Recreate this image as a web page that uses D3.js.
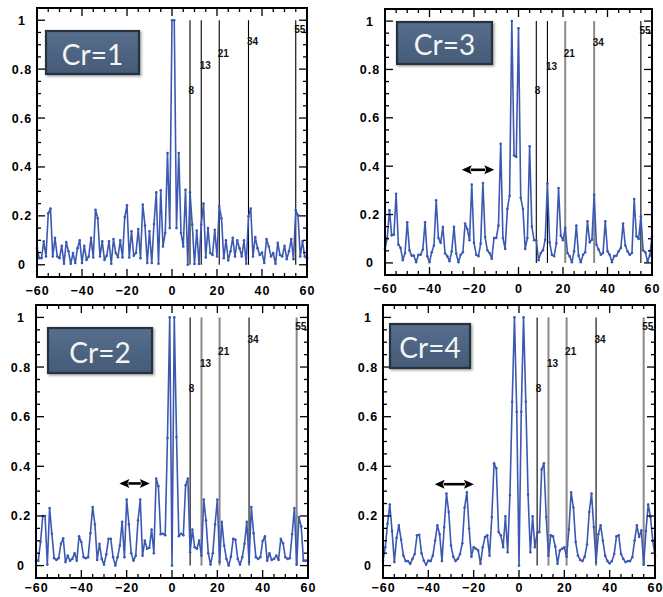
<!DOCTYPE html>
<html>
<head>
<meta charset="utf-8">
<script src="https://cdn.jsdelivr.net/npm/d3@7"></script>
<style>
  html, body { margin: 0; padding: 0; background: #fff; }
  svg { display: block; }
</style>
</head>
<body>
<svg id="chart" width="663" height="597"></svg>
<script>
// ---------------- DATA ----------------
const lags = d3.range(-60, 61);   // integer lag positions on the x axis

const cr1 = [
  0.068,0.027,0.027,0.096,0.034,0.21,0.23,0.034,0.11,0.034,
  0.027,0.078,0.004,0.093,0.055,0.004,0.048,0.007,0.068,0.1,
  0.007,0.078,0.02,0.034,0.11,0.03,0.225,0.19,0.034,0.096,
  0.02,0.037,0.096,0.004,0.105,0.048,0.031,0.1,0.03,0.195,
  0.243,0.03,0.137,0.037,0.048,0.146,0.027,0.246,0.16,0.007,
  0.137,0.007,0.167,0.296,0.004,0.305,0.075,0.13,0.457,0.15,
  1.0,
  1.0,0.15,0.457,0.13,0.075,0.307,0.0,0.296,0.164,0.003,
  0.14,0.003,0.164,0.25,0.03,0.15,0.048,0.04,0.143,0.034,
  0.24,0.19,0.027,0.1,0.018,0.055,0.11,0.034,0.1,0.068,
  0.034,0.1,0.004,0.198,0.23,0.034,0.113,0.068,0.04,0.05,
  0.007,0.105,0.075,0.034,0.048,0.004,0.09,0.04,0.034,0.078,
  0.023,0.055,0.105,0.023,0.223,0.202,0.034,0.096,0.034,0.027
];

const cr3 = [
  0.058,0.103,0.218,0.114,0.117,0.286,0.076,0.062,0.011,0.041,
  0.168,0.052,0.03,0.03,0.003,0.034,0.034,0.055,0.168,0.028,
  0.003,0.044,0.072,0.259,0.103,0.083,0.149,0.039,0.028,0.007,
  0.048,0.149,0.039,0.003,0.034,0.044,0.163,0.14,0.094,0.324,
  0.083,0.034,0.028,0.08,0.33,0.107,0.052,0.041,0.017,0.103,
  0.103,0.154,0.493,0.103,0.058,0.223,0.278,1.0,0.444,0.438,
  0.97,
  0.269,0.223,0.058,0.103,0.482,0.15,0.094,0.094,0.011,0.041,
  0.052,0.096,0.328,0.085,0.034,0.028,0.08,0.31,0.113,0.094,
  0.145,0.041,0.028,0.003,0.048,0.154,0.03,0.003,0.034,0.044,
  0.172,0.085,0.096,0.282,0.076,0.055,0.034,0.041,0.172,0.048,
  0.034,0.003,0.028,0.03,0.048,0.062,0.163,0.072,0.048,0.034,
  0.041,0.264,0.11,0.099,0.193,0.052,0.044,0.007,0.03,0.11
];

const cr2 = [
  0.02,0.02,0.095,0.2,0.2,0.004,0.232,0.128,0.03,0.023,
  0.03,0.088,0.11,0.014,0.04,0.02,0.027,0.05,0.02,0.118,
  0.095,0.034,0.03,0.034,0.13,0.236,0.166,0.023,0.088,0.027,
  0.004,0.045,0.108,0.108,0.034,0.0,0.034,0.081,0.176,0.034,
  0.266,0.166,0.05,0.02,0.04,0.182,0.266,0.04,0.101,0.068,
  0.072,0.145,0.05,0.351,0.32,0.126,0.128,0.122,0.514,1.0,
  0.0,
  1.0,0.518,0.118,0.128,0.122,0.324,0.351,0.054,0.145,0.074,
  0.068,0.101,0.04,0.266,0.182,0.05,0.004,0.05,0.166,0.266,
  0.014,0.176,0.081,0.027,0.0,0.036,0.108,0.104,0.027,0.004,
  0.034,0.088,0.176,0.014,0.236,0.13,0.034,0.027,0.034,0.099,
  0.118,0.02,0.05,0.023,0.027,0.04,0.023,0.108,0.09,0.034,
  0.027,0.03,0.126,0.232,0.004,0.196,0.158,0.02,0.02,0.02
];

const cr4 = [
  0.02,0.074,0.169,0.246,0.139,0.014,0.112,0.162,0.104,0.04,
  0.018,0.018,0.007,0.027,0.047,0.122,0.124,0.05,0.02,0.004,
  0.02,0.018,0.04,0.101,0.162,0.126,0.018,0.155,0.29,0.216,
  0.081,0.036,0.018,0.027,0.047,0.09,0.234,0.295,0.149,0.036,
  0.074,0.068,0.061,0.007,0.074,0.115,0.122,0.04,0.196,0.412,
  0.392,0.135,0.122,0.074,0.199,0.054,0.284,0.66,1.0,0.62,
  0.0,
  0.62,1.0,0.66,0.286,0.054,0.199,0.074,0.131,0.135,0.388,
  0.412,0.196,0.04,0.122,0.118,0.077,0.007,0.061,0.068,0.074,
  0.036,0.145,0.295,0.234,0.095,0.04,0.023,0.018,0.036,0.085,
  0.216,0.29,0.155,0.014,0.126,0.162,0.101,0.04,0.018,0.009,
  0.018,0.047,0.118,0.122,0.047,0.027,0.014,0.018,0.018,0.034,
  0.101,0.162,0.115,0.142,0.004,0.139,0.246,0.196,0.101,0.04
];

const fibLags   = [8, 13, 21, 34, 55];
const fibLabels = ["8", "13", "21", "34", "55"];
const xTicks = [-60, -40, -20, 0, 20, 40, 60];
const yTicks = [0, 0.2, 0.4, 0.6, 0.8, 1];
const yTickLabels = ["0", "0.2", "0.4", "0.6", "0.8", "1"];
const titles = ["Cr=1", "Cr=3", "Cr=2", "Cr=4"];

// ---------------- LAYOUT / STYLE ----------------
const fibLabelY = [0.713, 0.813, 0.864, 0.911, 0.962];   // label heights (data units)
const BLUE = "#3b59b2";

const panels = [
  { series: cr1, title: titles[0], L: 37,  R: 307, T: 8,   B: 277, xPad: 9,
    box: {x: 46,  y: 31,  w: 93, h: 43},
    fibStyle: ["k","k","k","k","k"], arrow: null },
  { series: cr3, title: titles[1], L: 385, R: 652, T: 9,   B: 275, xPad: 9,
    box: {x: 397, y: 22,  w: 95, h: 42},
    fibStyle: ["k","k","g","g","k"], arrow: [-25.5, -10.9, 0.385] },
  { series: cr2, title: titles[2], L: 36,  R: 308, T: 305, B: 578, xPad: 5,
    box: {x: 48,  y: 328, w: 104, h: 45},
    fibStyle: ["k","g","g","k","g"], arrow: [-23.2, -9.8, 0.331] },
  { series: cr4, title: titles[3], L: 383, R: 655, T: 305, B: 578, xPad: 5,
    box: {x: 390, y: 324, w: 80, h: 44},
    fibStyle: ["k","g","g","k","g"], arrow: [-37.2, -19.9, 0.328] }
];

const svg = d3.select("#chart");
const defs = svg.append("defs");
const grad = defs.append("linearGradient").attr("id", "boxGrad")
  .attr("x1", 0).attr("y1", 0).attr("x2", 0).attr("y2", 1);
grad.append("stop").attr("offset", "0%").attr("stop-color", "#566e8c");
grad.append("stop").attr("offset", "100%").attr("stop-color", "#455b78");
const filt = defs.append("filter").attr("id", "shadow").attr("x", "-20%").attr("y", "-20%").attr("width", "150%").attr("height", "150%");
filt.append("feDropShadow").attr("dx", 1.5).attr("dy", 1.5).attr("stdDeviation", 1.2).attr("flood-color", "#000").attr("flood-opacity", 0.35);

panels.forEach((p) => {
  const x = d3.scaleLinear().domain([-60, 60]).range([p.L, p.R]);
  const y = d3.scaleLinear().domain([-0.05, 1.05]).range([p.B, p.T]);
  const g = svg.append("g");

  // vertical Fibonacci lines
  fibLags.forEach((f, i) => {
    const gray = p.fibStyle[i] === "g";
    g.append("line")
      .attr("x1", x(f)).attr("x2", x(f))
      .attr("y1", y(0)).attr("y2", y(1))
      .attr("stroke", gray ? "#8a8a8a" : "#000")
      .attr("stroke-width", gray ? 2 : 1.1);
  });

  // series line + points
  const pts = lags.map((l, i) => [l, p.series[i]]);
  g.append("path").datum(pts)
    .attr("fill", "none").attr("stroke", BLUE).attr("stroke-width", 1.6)
    .attr("stroke-linejoin", "round")
    .attr("d", d3.line().x(d => x(d[0])).y(d => y(d[1])));
  g.selectAll("circle.pt").data(pts).enter().append("circle")
    .attr("class", "pt").attr("cx", d => x(d[0])).attr("cy", d => y(d[1]))
    .attr("r", 1.3).attr("fill", BLUE);

  // fib labels
  fibLags.forEach((f, i) => {
    g.append("text").text(fibLabels[i])
      .attr("x", x(f) - 1.5).attr("y", y(fibLabelY[i]))
      .attr("dominant-baseline", "central")
      .attr("font-family", "Liberation Sans, Arial, sans-serif")
      .attr("font-weight", "bold").attr("font-size", 10)
      .attr("fill", "#111");
  });

  // inward ticks on all four sides
  const major = 8, minor = 4;
  d3.range(-60, 61, 5).forEach(v => {
    const len = (v % 20 === 0) ? major : minor;
    g.append("line").attr("x1", x(v)).attr("x2", x(v)).attr("y1", p.B).attr("y2", p.B - len).attr("stroke", "#000").attr("stroke-width", 1.3);
    g.append("line").attr("x1", x(v)).attr("x2", x(v)).attr("y1", p.T).attr("y2", p.T + len).attr("stroke", "#000").attr("stroke-width", 1.3);
  });
  d3.range(0, 21).map(i => i * 0.05).forEach(v => {
    const isMajor = Math.abs(v / 0.2 - Math.round(v / 0.2)) < 1e-6;
    const len = isMajor ? major : minor;
    g.append("line").attr("x1", p.L).attr("x2", p.L + len).attr("y1", y(v)).attr("y2", y(v)).attr("stroke", "#000").attr("stroke-width", 1.3);
    g.append("line").attr("x1", p.R).attr("x2", p.R - len).attr("y1", y(v)).attr("y2", y(v)).attr("stroke", "#000").attr("stroke-width", 1.3);
  });

  // tick labels via d3 axes (ticks hidden, labels only)
  const axB = d3.axisBottom(x).tickValues(xTicks).tickSize(0).tickPadding(p.xPad).tickFormat(d3.format("d"));
  const gx = g.append("g").attr("transform", `translate(0,${p.B})`).call(axB);
  const axL = d3.axisLeft(y).tickValues(yTicks).tickSize(0).tickPadding(6)
    .tickFormat((d, i) => yTickLabels[i]);
  const gy = g.append("g").attr("transform", `translate(${p.L},0)`).call(axL);
  [gx, gy].forEach(ax => {
    ax.select(".domain").remove();
    ax.selectAll("text")
      .attr("font-family", "Liberation Sans, Arial, sans-serif")
      .attr("font-weight", "bold").attr("font-size", 12.5)
      .attr("letter-spacing", "1px").attr("fill", "#000");
  });
  gx.selectAll("text").text(d => (d < 0 ? "\u2212" + Math.abs(d) : d));
  gy.selectAll("text").attr("text-anchor", "middle").attr("x", -15);

  // frame
  g.append("rect").attr("x", p.L).attr("y", p.T)
    .attr("width", p.R - p.L).attr("height", p.B - p.T)
    .attr("fill", "none").attr("stroke", "#000").attr("stroke-width", 2);

  // double-headed arrow
  if (p.arrow) {
    const [a0, a1, ay] = p.arrow;
    const x0 = x(a0), x1 = x(a1), yy = y(ay), hl = 10, hw = 4.5;
    g.append("line").attr("x1", x0 + hl - 1).attr("x2", x1 - hl + 1).attr("y1", yy).attr("y2", yy)
      .attr("stroke", "#000").attr("stroke-width", 2.6);
    g.append("path").attr("d", `M${x0},${yy} L${x0 + hl},${yy - hw} L${x0 + hl - 2},${yy} L${x0 + hl},${yy + hw} Z`).attr("fill", "#000");
    g.append("path").attr("d", `M${x1},${yy} L${x1 - hl},${yy - hw} L${x1 - hl + 2},${yy} L${x1 - hl},${yy + hw} Z`).attr("fill", "#000");
  }

  // title box
  const b = p.box;
  g.append("rect").attr("x", b.x).attr("y", b.y).attr("width", b.w).attr("height", b.h)
    .attr("fill", "url(#boxGrad)").attr("stroke", "#27313d").attr("stroke-width", 2.2)
    .attr("filter", "url(#shadow)");
  g.append("text").text(p.title)
    .attr("x", b.x + b.w / 2).attr("y", b.y + b.h / 2 + 1)
    .attr("text-anchor", "middle").attr("dominant-baseline", "central")
    .attr("font-family", "Lato, Open Sans, sans-serif").attr("font-size", 28)
    .attr("fill", "#f4f4f4");
});
</script>
</body>
</html>
